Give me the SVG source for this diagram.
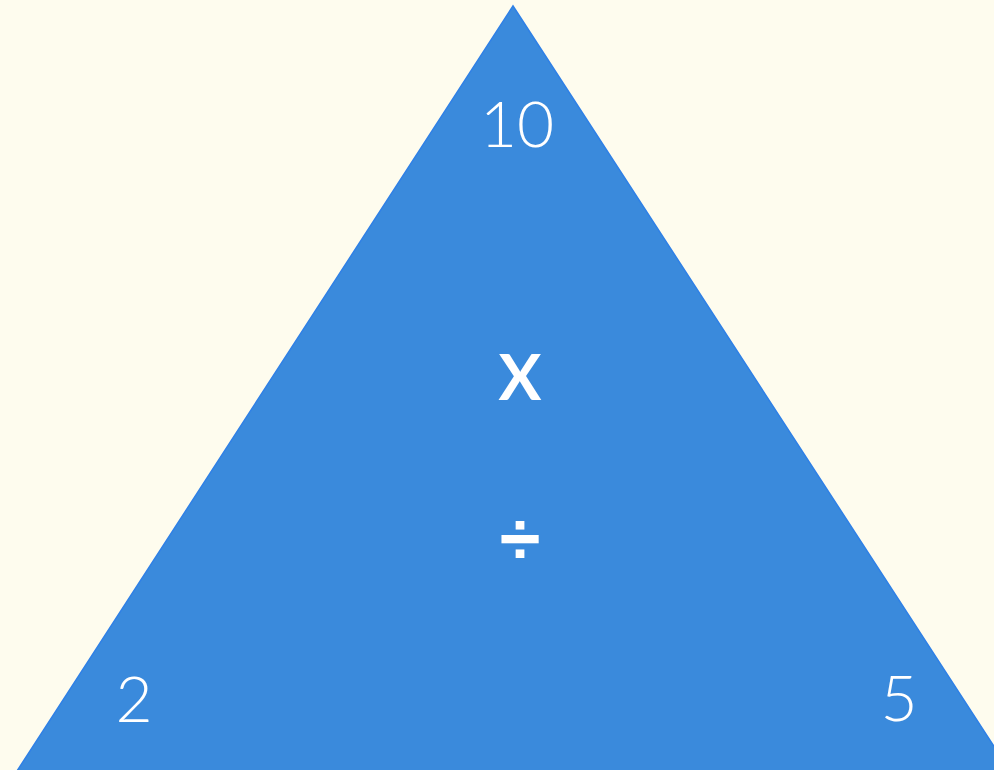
<svg xmlns="http://www.w3.org/2000/svg" width="994" height="770" viewBox="0 0 994 770">
<style>
.t{font-family:Lato,"Open Sans","Liberation Sans",sans-serif;font-size:64px;fill:#ffffff;text-anchor:middle;font-weight:300}
.b{font-family:Lato,"Open Sans","Liberation Sans",sans-serif;font-size:64px;fill:#ffffff;text-anchor:middle;font-weight:700}
.d{font-family:"Liberation Sans",Arial,sans-serif;font-size:74px;fill:#ffffff;text-anchor:middle;font-weight:700}
</style>
<rect width="994" height="770" fill="#fefcee"/>
<g id="triangle">
<polygon points="513,6 17,771 1010,771" fill="#3a8adc" stroke="#2f80e6" stroke-width="1.5"/>
</g>
<g id="top"><text class="t" x="517" y="147">10</text></g>
<g id="times"><text class="b" x="520" y="400">X</text></g>
<g id="divide"><text class="d" x="520" y="564">÷</text></g>
<g id="left"><text class="t" x="134" y="722">2</text></g>
<g id="right"><text class="t" x="899" y="721">5</text></g>
</svg>
